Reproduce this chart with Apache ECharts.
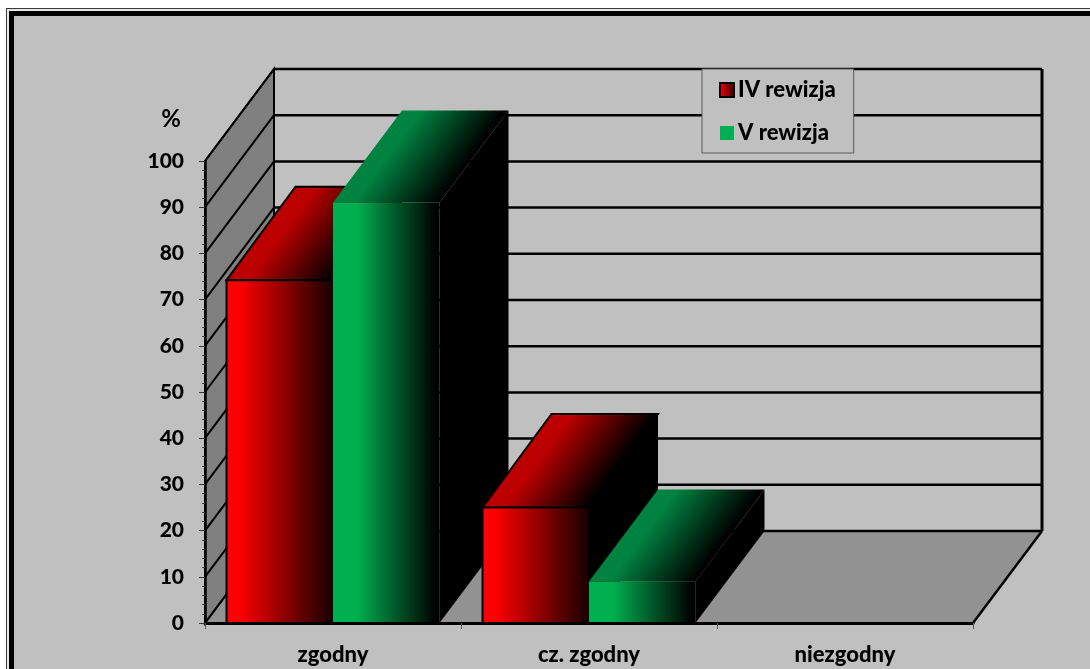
<!DOCTYPE html>
<html>
<head>
<meta charset="utf-8">
<style>html,body{margin:0;padding:0;background:#fff}#c{width:1090px;height:669px}</style>
<script src="https://cdn.jsdelivr.net/npm/echarts@6/dist/echarts.min.js"></script>
</head>
<body>
<div id="c"></div>
<script>
const categories = ['zgodny', 'cz. zgodny', 'niezgodny'];
const seriesNames = ['IV rewizja', 'V rewizja'];
const rewizjaIV = [74.2, 25, 0];
const rewizjaV = [91, 9, 0];
const yTicks = [0, 10, 20, 30, 40, 50, 60, 70, 80, 90, 100];

const FONT = 'Lato';
const DX = 69, DY = -92;
const BAR_RATIO = 0.416;
const BLACK = '#000';

function hGrad(stops) {
  return {type: 'linear', x: 0, y: 0, x2: 1, y2: 0,
    colorStops: stops.map(s => ({offset: s[0], color: s[1]}))};
}
const faces = [
  {front: hGrad([[0, '#ff0000'], [0.12, '#ff0000'], [1, '#140000']]), top: '#bc0000', stroke: BLACK, rise: -93.5},
  {front: hGrad([[0, '#00b050'], [0.22, '#00b050'], [0.97, '#000000'], [1, '#000000']]), top: '#008240', stroke: null, rise: DY}
];

function barRenderer(seriesIndex) {
  return function (params, api) {
    const cat = api.value(0), val = api.value(1);
    if (!val) return {type: 'group', children: []};
    const w = api.size([1, 0])[0] * BAR_RATIO;
    const c = api.coord([cat, val]), b = api.coord([cat, 0]);
    const x0 = seriesIndex === 0 ? c[0] - w : c[0];
    const x1 = x0 + w, yT = c[1], yB = b[1];
    const z2 = 10 + cat * 10 + seriesIndex * 3;
    const f = faces[seriesIndex];
    const gd = {
      type: 'linear', global: true, x: x0, y: yT, x2: x0 + 68, y2: yT + 50,
      colorStops: [{offset: 0, color: f.top}, {offset: 0.2, color: f.top}, {offset: 1, color: '#000'}]
    };
    return {
      type: 'group',
      children: [
        {type: 'polygon', z2: z2,
          shape: {points: [[x1, yT], [x1 + DX, yT + f.rise], [x1 + DX, yB + DY], [x1, yB]]},
          style: {fill: BLACK}},
        {type: 'polygon', z2: z2 + 1,
          shape: {points: [[x0, yT], [x0 + DX, yT + f.rise], [x1 + DX, yT + f.rise], [x1, yT]]},
          style: {fill: gd, stroke: f.stroke, lineWidth: f.stroke ? 2 : 0}},
        {type: 'rect', z2: z2 + 2,
          shape: {x: x0, y: yT, width: w, height: yB - yT},
          style: {fill: f.front, stroke: f.stroke, lineWidth: f.stroke ? 2 : 0}}
      ]
    };
  };
}

function wallRenderer(params, api) {
  const v = api.value(0);
  const cs = params.coordSys;
  const p = api.coord([0, v]);
  const y = p[1], xL = cs.x, xR = cs.x + cs.width;
  const children = [];
  if (params.dataIndex === 0) {
    const yTop = cs.y, yBot = cs.y + cs.height;
    children.push(
      {type: 'polygon', z2: 1,
        shape: {points: [[xL, yBot], [xL + DX, yBot + DY], [xR + DX, yBot + DY], [xR, yBot]]},
        style: {fill: '#929292'}},
      {type: 'polygon', z2: 2,
        shape: {points: [[xL, yTop], [xL + DX, yTop + DY], [xL + DX, yBot + DY], [xL, yBot]]},
        style: {fill: '#808080', stroke: BLACK, lineWidth: 2}},
      {type: 'line', z2: 4,
        shape: {x1: xR + DX, y1: yTop + DY, x2: xR + DX, y2: yBot + DY},
        style: {stroke: BLACK, lineWidth: 3}},
      {type: 'line', z2: 4,
        shape: {x1: xR, y1: yBot, x2: xR + DX, y2: yBot + DY},
        style: {stroke: BLACK, lineWidth: 2.5}}
    );
  }
  children.push(
    {type: 'line', z2: 3,
      shape: {x1: xL, y1: y, x2: xL + DX, y2: y + DY},
      style: {stroke: BLACK, lineWidth: 2}},
    {type: 'line', z2: 3,
      shape: {x1: xL + DX, y1: y + DY, x2: xR + DX, y2: y + DY},
      style: {stroke: BLACK, lineWidth: 2.5}}
  );
  return {type: 'group', children};
}

const frame = [
  [6, 8, '#3a3a3a'], [7, 9, '#e8e8e8'], [9, 11, '#000000'], [14, 16, '#c0c0c0']
].map(r => ({
  type: 'rect', z: 0,
  shape: {x: r[0], y: r[1], width: 1090 - r[0], height: 669 - r[1]},
  style: {fill: r[2]}
}));

const chart = echarts.init(document.getElementById('c'), null, {renderer: 'canvas'});
chart.setOption({
  animation: false,
  backgroundColor: '#ffffff',
  graphic: {elements: frame},
  grid: {left: 205, top: 161, width: 768, height: 462, containLabel: false},
  xAxis: {
    type: 'category', data: categories, z: 6,
    axisLine: {show: true, lineStyle: {color: BLACK, width: 3}},
    axisTick: {show: true, length: 6, lineStyle: {color: '#555', width: 1}},
    axisLabel: {margin: 21, color: '#000', fontFamily: FONT, fontWeight: 900, fontSize: 22},
    splitLine: {show: false}
  },
  yAxis: {
    type: 'value', min: 0, max: 100, interval: 10, z: 6,
    name: '%', nameLocation: 'end', nameGap: 30,
    nameTextStyle: {color: '#000', fontFamily: FONT, fontWeight: 700, fontSize: 24, align: 'right', padding: [0, 24, 0, 0]},
    axisLine: {show: true, lineStyle: {color: BLACK, width: 2.5}},
    axisTick: {show: true, length: 6, lineStyle: {color: '#333', width: 1}},
    minorTick: {show: true, splitNumber: 5, length: 3, lineStyle: {color: '#444', width: 1}},
    axisLabel: {margin: 21, color: '#000', fontFamily: FONT, fontWeight: 900, fontSize: 21, padding: [10, 0, 0, 0]},
    splitLine: {show: false}
  },
  legend: {
    show: true, orient: 'vertical', left: 702, top: 69, z: 20,
    selectedMode: false,
    backgroundColor: '#c0c0c0', borderColor: '#5a5a5a', borderWidth: 1,
    padding: [10, 18, 9, 17], itemGap: 21, itemWidth: 14, itemHeight: 14,
    textStyle: {color: '#000', fontFamily: FONT, fontWeight: 900, fontSize: 22, padding: [0, 0, 0, -1]},
    data: [
      {name: seriesNames[0], icon: 'rect', itemStyle: {
        color: {type: 'linear', x: 0, y: 0, x2: 1, y2: 0, colorStops: [{offset: 0, color: '#ff0000'}, {offset: 1, color: '#300000'}]},
        borderColor: BLACK, borderWidth: 2}},
      {name: seriesNames[1], icon: 'rect', itemStyle: {color: '#00b050', borderWidth: 0}}
    ]
  },
  series: [
    {type: 'custom', name: 'walls', z: 2, silent: true, renderItem: wallRenderer,
      data: yTicks.map(v => [v]), encode: {y: 0}, clip: false},
    {type: 'custom', name: seriesNames[0], z: 2, renderItem: barRenderer(0),
      data: rewizjaIV.map((v, i) => [i, v]), encode: {x: 0, y: 1}, itemStyle: {color: '#ff0000'}},
    {type: 'custom', name: seriesNames[1], z: 2, renderItem: barRenderer(1),
      data: rewizjaV.map((v, i) => [i, v]), encode: {x: 0, y: 1}, itemStyle: {color: '#00b050'}}
  ]
});
</script>
</body>
</html>
